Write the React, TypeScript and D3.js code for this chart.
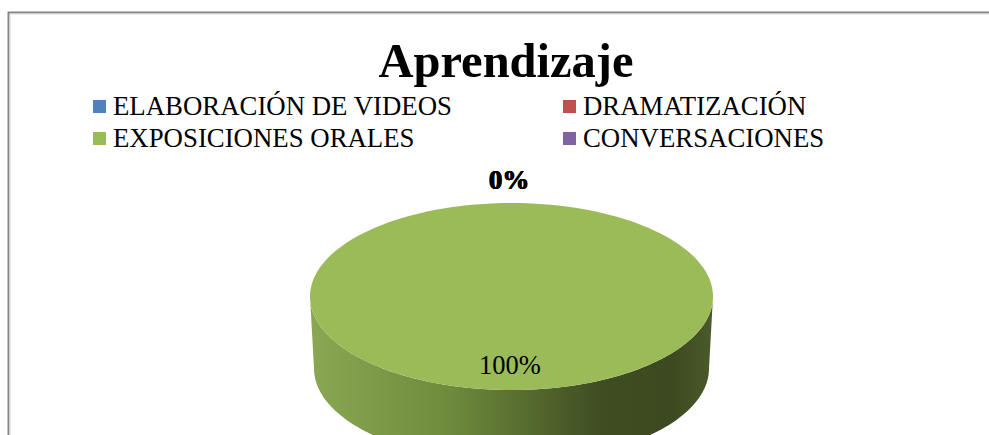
import React from "react";
import * as d3 from "d3";

const categories = ["ELABORACIÓN DE VIDEOS", "DRAMATIZACIÓN", "EXPOSICIONES ORALES", "CONVERSACIONES"];
const values = [0, 0, 100, 0];
const colors = ["#4F81BD", "#C0504D", "#9BBB59", "#8064A2"];
const title = "Aprendizaje";

const W = 989, H = 435;
const cx = 511.5, cy = 296.5, rx = 201.5, ry = 93.5, depth = 72;
const FONT = "Liberation Serif";

function pt(a: number, dy = 0, shrink = 0): [number, number] {
  return [cx + (rx - shrink) * Math.sin(a), cy - ry * Math.cos(a) + dy];
}

function topPath(a0: number, a1: number) {
  const n = 160;
  const p = d3.path();
  const full = a1 - a0 >= 2 * Math.PI - 1e-6;
  if (!full) p.moveTo(cx, cy);
  for (let i = 0; i <= n; i++) {
    const [x, y] = pt(a0 + ((a1 - a0) * i) / n);
    if (i === 0 && full) p.moveTo(x, y); else p.lineTo(x, y);
  }
  p.closePath();
  return p.toString();
}

function sidePath(a0: number, a1: number) {
  const s = Math.max(a0, Math.PI / 2), e = Math.min(a1, (3 * Math.PI) / 2);
  if (e <= s) return null;
  const n = 120;
  const pts: [number, number][] = [];
  for (let i = 0; i <= n; i++) pts.push(pt(s + ((e - s) * i) / n));
  for (let i = n; i >= 0; i--) pts.push(pt(s + ((e - s) * i) / n, depth, 4));
  return d3.line()(pts) + "Z";
}

export default function App() {
  const pie = d3.pie<number>().sort(null).startAngle(0).endAngle(2 * Math.PI);
  const arcs = pie(values);
  const total = d3.sum(values);
  const fmt = d3.format(".0%");
  const ts = { fontFamily: FONT };

  const legX = [93, 563];
  const legY = [100, 132];

  return (
    <svg width={W} height={H} style={{ position: "absolute", left: 0, top: 0, background: "#fff" }}>
      <defs>
        <linearGradient id="sideGrad" gradientUnits="userSpaceOnUse" x1={cx - rx} x2={cx + rx} y1={0} y2={0}>
          <stop offset="0" stopColor="#8aa853" />
          <stop offset="0.35" stopColor="#6e8a3c" />
          <stop offset="0.72" stopColor="#3f4d22" />
          <stop offset="0.9" stopColor="#3d4a21" />
          <stop offset="1" stopColor="#4a5b2a" />
        </linearGradient>
      </defs>
      <rect x={0} y={0} width={W} height={H} fill="#fff" />
      <path d={`M8.5,${H} V12.5 H${W}`} fill="none" stroke="#868686" strokeWidth={2} />
      <path d={`M10,${H} V14 H${W}`} fill="none" stroke="#d9d9d9" strokeWidth={1} />

      <text x={506} y={77} textAnchor="middle" fontSize={48.5} fontWeight="bold" fill="#000" style={ts}>{title}</text>

      {categories.map((c, i) => {
        const x = legX[i % 2], y = legY[Math.floor(i / 2)];
        return (
          <g key={c}>
            <rect x={x} y={y} width={13} height={13} fill={colors[i]} />
            <text x={x + 20} y={y + 15} fontSize={26.8} fill="#000" style={ts}>{c}</text>
          </g>
        );
      })}

      {arcs.map((a, i) => {
        const d = sidePath(a.startAngle, a.endAngle);
        return d ? <path key={"s" + i} d={d} fill="url(#sideGrad)" /> : null;
      })}
      {arcs.map((a, i) =>
        a.endAngle > a.startAngle ? <path key={"t" + i} d={topPath(a.startAngle, a.endAngle)} fill={colors[i]} /> : null
      )}

      {arcs.map((a, i) => {
        const m = (a.startAngle + a.endAngle) / 2;
        const zero = a.value === 0;
        const [x, y] = zero ? pt(m, 0) : [cx + rx * 0.82 * Math.sin(m), cy - ry * 0.82 * Math.cos(m)];
        return (
          <text key={"l" + i} x={zero ? x - 3 + (i % 2) : x - 1.5} y={zero ? y - 14 : y + 1} textAnchor="middle"
            fontSize={zero ? 27 : 26.5} fontWeight={zero ? "bold" : "normal"} fill="#000" style={ts}>
            {fmt(a.value / total)}
          </text>
        );
      })}
    </svg>
  );
}
